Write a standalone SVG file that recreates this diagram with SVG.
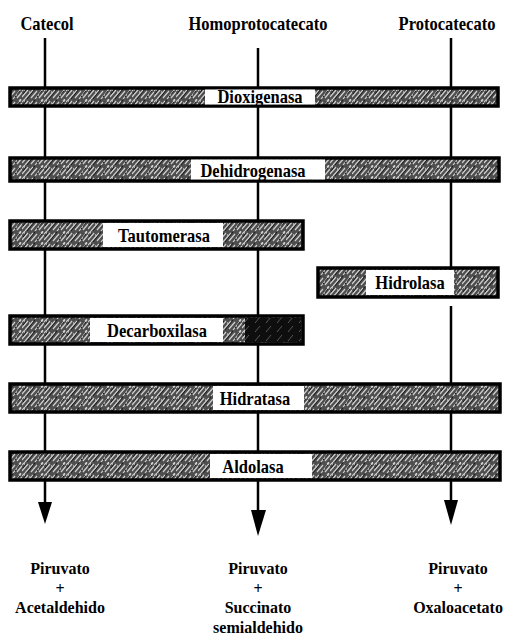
<svg xmlns="http://www.w3.org/2000/svg" width="505" height="639" viewBox="0 0 505 639">
<style>
text{font-family:"Liberation Serif","Times New Roman",serif;font-size:16.5px;font-weight:bold;fill:#000;text-anchor:middle}
.p{font-size:16px}
.bar{fill:url(#tex);stroke:#000;stroke-width:3.5}
.dark{fill:url(#texd);stroke:none}
.lbl{fill:#fff;stroke:none}
.ln{stroke:#000;stroke-width:2.5;fill:none}
</style>
<defs>
<pattern id="tex" width="22" height="11" patternUnits="userSpaceOnUse">
<rect width="22" height="11" fill="#4e4e4e"/>
<path d="M0 9L6 2M3 11L11 2M9 10L15 3M13 11L21 1M17 10L22 4M-1 4L3 0M19 2L21 0" stroke="#cfcfcf" stroke-width="1.2"/>
<path d="M5 11L13 1M15 9L20 3M1 6L4 2" stroke="#1a1a1a" stroke-width="1"/>
<path d="M7 4l1 0M16 7l1 0M2 2l1 0" stroke="#eee" stroke-width="1.2"/>
</pattern>
<pattern id="texd" width="11" height="9" patternUnits="userSpaceOnUse">
<rect width="11" height="9" fill="#0e0e0e"/>
<path d="M2 8L7 2" stroke="#6a6a6a" stroke-width="0.8"/>
</pattern>
</defs>
<g id="connectors">
<line class="ln" x1="45" y1="38" x2="45" y2="505"/>
<path d="M38 502L52 502L45 524Z"/>
<line class="ln" x1="258" y1="48" x2="258" y2="512"/>
<path d="M251 510L266 510L258 536Z"/>
<line class="ln" x1="451" y1="38" x2="451" y2="298"/>
<line class="ln" x1="451" y1="306" x2="451" y2="503"/>
<path d="M444 500L458 500L451 525Z"/>
</g>
<g id="catecol"><text transform="translate(47,30) scale(1,1.2)">Catecol</text></g>
<g id="homoprotocatecato"><text transform="translate(258,30) scale(1,1.2)">Homoprotocatecato</text></g>
<g id="protocatecato"><text transform="translate(447,30) scale(1,1.2)">Protocatecato</text></g>
<g id="dioxigenasa"><rect class="bar" x="10" y="88" width="488" height="18"/><rect class="lbl" x="205" y="89.5" width="110" height="15"/><text transform="translate(260,103) scale(1,1.2)">Dioxigenasa</text></g>
<g id="dehidrogenasa"><rect class="bar" x="10" y="158" width="489" height="23"/><rect class="lbl" x="191" y="159.5" width="134" height="20"/><text transform="translate(253,177) scale(1,1.2)">Dehidrogenasa</text></g>
<g id="tautomerasa"><rect class="bar" x="10" y="221" width="293" height="28"/><rect class="lbl" x="103" y="223" width="120" height="24"/><text transform="translate(164,242) scale(1,1.2)">Tautomerasa</text></g>
<g id="hidrolasa"><rect class="bar" x="318" y="268" width="180" height="29"/><rect class="lbl" x="366" y="270" width="88" height="25"/><text transform="translate(410,289) scale(1,1.2)">Hidrolasa</text></g>
<g id="decarboxilasa"><rect class="bar" x="10" y="316" width="293" height="28"/><rect class="dark" x="245" y="318" width="56" height="24"/><rect class="lbl" x="90" y="318" width="133" height="24"/><text transform="translate(157,337) scale(1,1.2)">Decarboxilasa</text></g>
<g id="hidratasa"><rect class="bar" x="10" y="384" width="490" height="28"/><rect class="lbl" x="213" y="386" width="91" height="24"/><text transform="translate(255,405) scale(1,1.2)">Hidratasa</text></g>
<g id="aldolasa"><rect class="bar" x="10" y="452" width="490" height="28"/><rect class="lbl" x="210" y="454" width="102" height="24"/><text transform="translate(253,473) scale(1,1.2)">Aldolasa</text></g>
<g id="prod-catecol"><text class="p" x="60" y="574">Piruvato</text><text class="p" x="60" y="593.5">+</text><text class="p" x="60" y="613">Acetaldehido</text></g>
<g id="prod-homo"><text class="p" x="258" y="574">Piruvato</text><text class="p" x="258" y="593.5">+</text><text class="p" x="258" y="613">Succinato</text><text class="p" x="258" y="632.5">semialdehido</text></g>
<g id="prod-proto"><text class="p" x="458" y="574">Piruvato</text><text class="p" x="458" y="593.5">+</text><text class="p" x="458" y="613">Oxaloacetato</text></g>
</svg>
